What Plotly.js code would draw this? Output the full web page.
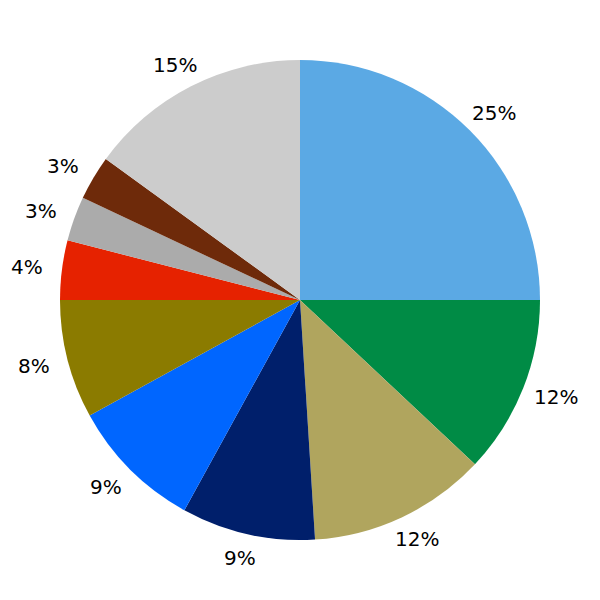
<!DOCTYPE html>
<html>
<head>
<meta charset="utf-8">
<script src="https://cdn.plot.ly/plotly-3.0.1.min.js"></script>
<style>html,body{margin:0;padding:0;background:#fff;}</style>
</head>
<body>
<div id="chart" style="width:600px;height:600px;"></div>
<script>
const categories = ["A", "B", "C", "D", "E", "F", "G", "H", "I", "J"];
const shares = [25, 12, 12, 9, 9, 8, 4, 3, 3, 15];
const sliceColors = ["#5BA9E4", "#008B45", "#B0A55E", "#001F6B", "#0066FF", "#8B7B00", "#E62200", "#ABABAB", "#6E2A0A", "#CCCCCC"];

// pie occupies domain [0.1, 0.9] in both directions of a 600x600 figure
const domainLo = 0.1, domainHi = 0.9;
const labelDistX = 1.145; // horizontal label radius relative to pie radius
const labelDistY = 1.10;  // vertical label radius relative to pie radius

const total = shares.reduce((a, b) => a + b, 0);
const pieR = (domainHi - domainLo) / 2;
const cx = (domainLo + domainHi) / 2, cy = cx;
let cum = 0;
const annotations = shares.map((v) => {
  const mid = (cum + v / 2) / total * 2 * Math.PI;
  cum += v;
  return {
    x: cx + labelDistX * pieR * Math.sin(mid),
    y: cy + labelDistY * pieR * Math.cos(mid),
    xref: "paper", yref: "paper",
    xanchor: "center", yanchor: "middle",
    text: Math.round(v / total * 100) + "%",
    showarrow: false,
    font: {family: "DejaVu Sans", size: 20, color: "#000"}
  };
});

const trace = {
  type: "pie",
  labels: categories,
  values: shares,
  sort: false,
  direction: "clockwise",
  rotation: 0,
  domain: {x: [domainLo, domainHi], y: [domainLo, domainHi]},
  marker: {colors: sliceColors, line: {width: 0}},
  textinfo: "none",
  hoverinfo: "none",
  showlegend: false,
  automargin: false
};
const layout = {
  width: 600, height: 600,
  margin: {l: 0, r: 0, t: 0, b: 0},
  paper_bgcolor: "#fff",
  showlegend: false,
  annotations: annotations
};
Plotly.newPlot("chart", [trace], layout, {staticPlot: true});
</script>
</body>
</html>
